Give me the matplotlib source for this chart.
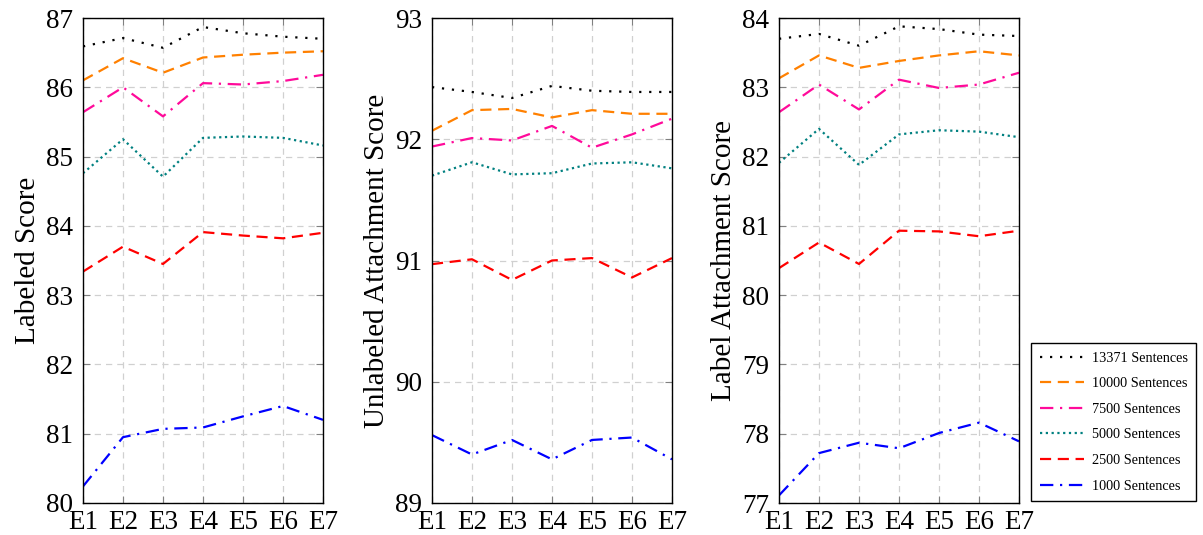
import matplotlib
matplotlib.use("Agg")
import matplotlib.pyplot as plt

plt.rcParams['font.family'] = ['Liberation Serif', 'DejaVu Serif']
plt.rcParams['mathtext.fontset'] = 'stix'

epochs = ['E1', 'E2', 'E3', 'E4', 'E5', 'E6', 'E7']
series_names = ['13371 Sentences', '10000 Sentences', '7500 Sentences',
                '5000 Sentences', '2500 Sentences', '1000 Sentences']

# labeled score
ls_vals = [
    [86.59, 86.71, 86.57, 86.87, 86.78, 86.73, 86.70],
    [86.10, 86.42, 86.21, 86.43, 86.47, 86.50, 86.52],
    [85.64, 86.00, 85.58, 86.06, 86.04, 86.09, 86.18],
    [84.76, 85.25, 84.71, 85.27, 85.29, 85.27, 85.16],
    [83.34, 83.70, 83.45, 83.91, 83.86, 83.82, 83.90],
    [80.24, 80.95, 81.07, 81.09, 81.25, 81.40, 81.20],
]
# unlabeled attachment score
uas_vals = [
    [92.43, 92.39, 92.34, 92.44, 92.40, 92.39, 92.39],
    [92.07, 92.24, 92.25, 92.18, 92.24, 92.21, 92.21],
    [91.94, 92.01, 91.99, 92.11, 91.93, 92.04, 92.17],
    [91.70, 91.81, 91.71, 91.72, 91.80, 91.81, 91.76],
    [90.97, 91.01, 90.84, 91.00, 91.02, 90.86, 91.02],
    [89.56, 89.40, 89.52, 89.36, 89.52, 89.54, 89.36],
]
# label attachment score
las_vals = [
    [83.70, 83.77, 83.60, 83.88, 83.84, 83.76, 83.74],
    [83.13, 83.46, 83.28, 83.38, 83.46, 83.52, 83.46],
    [82.64, 83.04, 82.68, 83.11, 82.99, 83.04, 83.21],
    [81.91, 82.40, 81.88, 82.32, 82.38, 82.36, 82.28],
    [80.39, 80.76, 80.45, 80.93, 80.92, 80.85, 80.93],
    [77.11, 77.72, 77.87, 77.79, 78.01, 78.16, 77.89],
]

colors = ['black', '#ff8000', '#ff0a9a', '#008080', 'red', 'blue']
styles = [(0, (1, 3.5)), (0, (5, 3)), (0, (6, 3, 1, 3)), (0, (1, 1.6)),
          (0, (5, 3)), (0, (6, 3, 1, 3))]

panels = [
    (ls_vals, 'Labeled Score', (80, 87)),
    (uas_vals, 'Unlabeled Attachment Score', (89, 93)),
    (las_vals, 'Label Attachment Score', (77, 84)),
]
lefts = [83 / 1203, 432 / 1203, 779 / 1203]

fig = plt.figure(figsize=(12.03, 5.35), dpi=100)
x = list(range(len(epochs)))
handles = []
for (vals, ylabel, ylim), left in zip(panels, lefts):
    ax = fig.add_axes([left, 32 / 535, 240 / 1203, 485 / 535])
    for i, v in enumerate(vals):
        h, = ax.plot(x, v, color=colors[i], linestyle=styles[i], lw=1.6,
                     label=series_names[i])
        if left == lefts[0]:
            handles.append(h)
    ax.set_xlim(0, len(epochs) - 1)
    ax.set_ylim(*ylim)
    ax.set_xticks(x)
    ax.set_xticklabels(epochs)
    ax.set_yticks(range(ylim[0], ylim[1] + 1))
    ax.grid(True, color='#d0d0d0', linestyle=(0, (5, 4)), lw=0.9)
    ax.tick_params(direction='in', top=True, right=True, length=5,
                   color='#808080', labelsize=19.5)
    ax.tick_params(axis='y', pad=7)
    ax.tick_params(axis='x', pad=5)
    ax.set_ylabel(ylabel, fontsize=21, labelpad=4)
    for sp in ax.spines.values():
        sp.set_linewidth(1.0)

fig.legend(handles=handles, loc='upper left',
           bbox_to_anchor=(1031 / 1203, 1 - 343 / 535), fontsize=10.3,
           frameon=True, fancybox=False, edgecolor='black', framealpha=1,
           handlelength=3.1, labelspacing=0.88, borderpad=0.6,
           handletextpad=0.55, borderaxespad=0)

fig.savefig('out.png', dpi=100)
